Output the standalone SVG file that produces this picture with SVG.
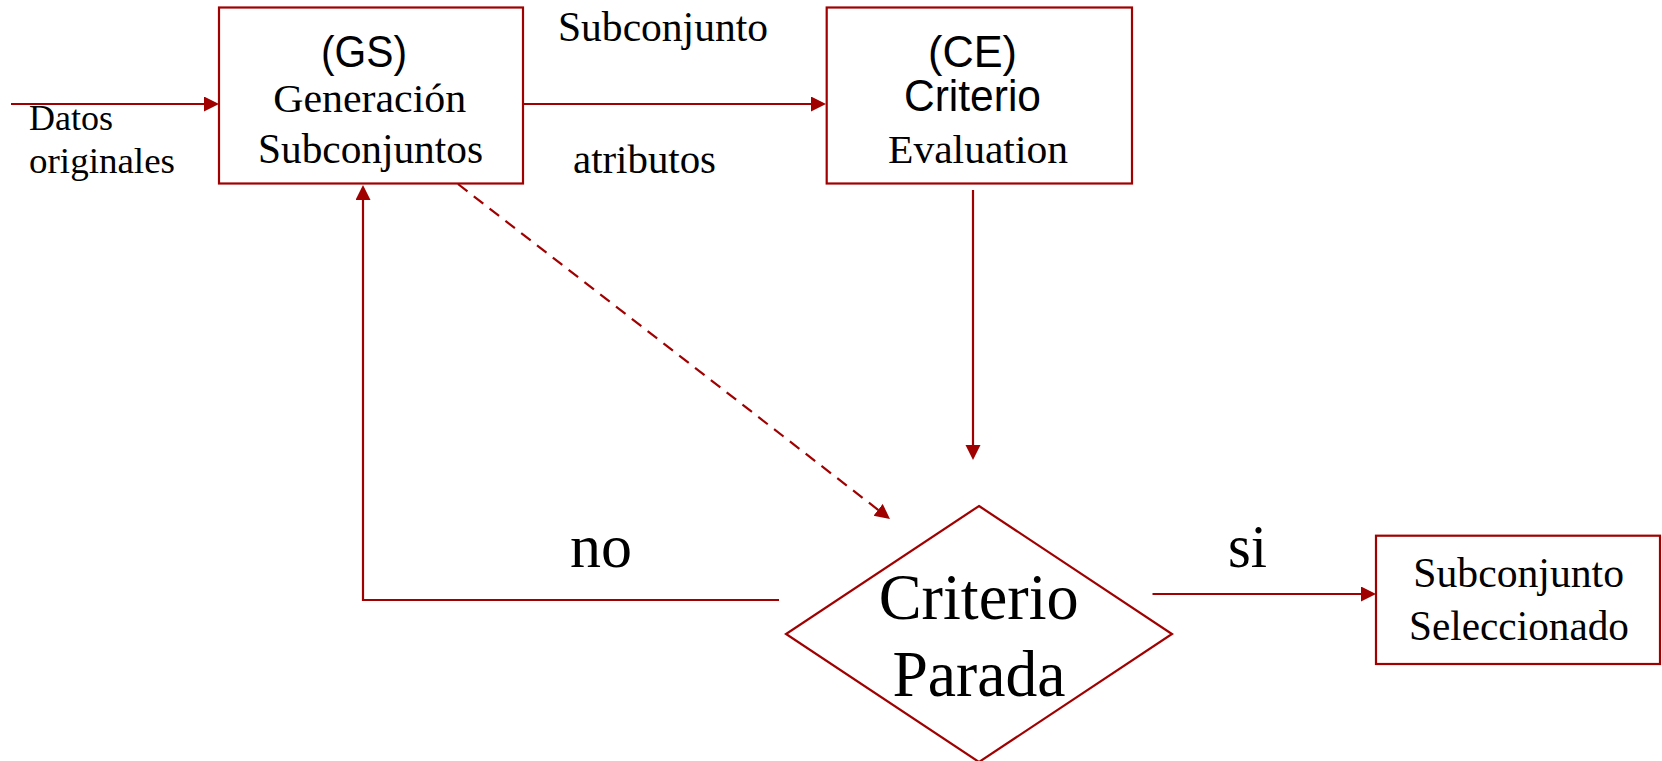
<svg xmlns="http://www.w3.org/2000/svg" width="1662" height="761" viewBox="0 0 1662 761">
<style>
.box{fill:#fff;stroke:#A00000;stroke-width:2.2}
.ln{fill:none;stroke:#A00000;stroke-width:2.2}
.dash{stroke-dasharray:12 8}
.tm{font-family:"Liberation Serif","Times New Roman",serif;fill:#000}
.ar{font-family:"Liberation Sans",Arial,sans-serif;fill:#000}
</style>
<defs>
<marker id="ah" markerUnits="userSpaceOnUse" markerWidth="16" markerHeight="16" refX="12" refY="7.5" orient="auto">
<path d="M0,0 L15,7.5 L0,15 z" fill="#A00000"/>
</marker>
</defs>
<rect width="1662" height="761" fill="#fff"/>
<g id="connectors">
<line class="ln" x1="11" y1="104" x2="216" y2="104" marker-end="url(#ah)"/>
<line class="ln" x1="523" y1="104" x2="823" y2="104" marker-end="url(#ah)"/>
<line class="ln" x1="973" y1="190" x2="973" y2="457" marker-end="url(#ah)"/>
<line class="ln dash" x1="458" y1="184" x2="887.6" y2="517.2" marker-end="url(#ah)"/>
<polyline class="ln" points="779,600 363,600 363,188" marker-end="url(#ah)"/>
<line class="ln" x1="1152.5" y1="594" x2="1373" y2="594" marker-end="url(#ah)"/>
<text class="tm" x="29" y="130" font-size="36" textLength="84" lengthAdjust="spacingAndGlyphs">Datos</text>
<text class="tm" x="29" y="173" font-size="36.5" textLength="146" lengthAdjust="spacingAndGlyphs">originales</text>
<text class="tm" x="663" y="41" font-size="42" text-anchor="middle" textLength="210" lengthAdjust="spacingAndGlyphs">Subconjunto</text>
<text class="tm" x="644.5" y="173" font-size="41" text-anchor="middle" textLength="143" lengthAdjust="spacingAndGlyphs">atributos</text>
<text class="tm" x="601" y="567" font-size="62" text-anchor="middle" textLength="62" lengthAdjust="spacingAndGlyphs">no</text>
<text class="tm" x="1247.5" y="567" font-size="62" text-anchor="middle" textLength="39" lengthAdjust="spacingAndGlyphs">si</text>
</g>
<g id="node-gs">
<rect class="box" x="219" y="7.5" width="304" height="176"/>
<text class="ar" x="364" y="67" font-size="44" text-anchor="middle" textLength="86" lengthAdjust="spacingAndGlyphs">(GS)</text>
<text class="tm" x="369.7" y="111.5" font-size="40" text-anchor="middle" textLength="193" lengthAdjust="spacingAndGlyphs">Generación</text>
<text class="tm" x="370.5" y="162.5" font-size="41.5" text-anchor="middle" textLength="225" lengthAdjust="spacingAndGlyphs">Subconjuntos</text>
</g>
<g id="node-ce">
<rect class="box" x="826.7" y="7.5" width="305.3" height="176"/>
<text class="ar" x="972.5" y="67" font-size="44" text-anchor="middle" textLength="89" lengthAdjust="spacingAndGlyphs">(CE)</text>
<text class="ar" x="972.5" y="111" font-size="44" text-anchor="middle" textLength="137" lengthAdjust="spacingAndGlyphs">Criterio</text>
<text class="tm" x="978" y="163" font-size="41" text-anchor="middle" textLength="180" lengthAdjust="spacingAndGlyphs">Evaluation</text>
</g>
<g id="node-parada">
<polygon class="box" points="979,506 1172,634 979,762 786,634"/>
<text class="tm" x="978.7" y="619" font-size="66" text-anchor="middle" textLength="200" lengthAdjust="spacingAndGlyphs">Criterio</text>
<text class="tm" x="979" y="696" font-size="65" text-anchor="middle" textLength="173" lengthAdjust="spacingAndGlyphs">Parada</text>
</g>
<g id="node-result">
<rect class="box" x="1376" y="535.7" width="284" height="128.3"/>
<text class="tm" x="1518.7" y="587" font-size="42.5" text-anchor="middle" textLength="210.7" lengthAdjust="spacingAndGlyphs">Subconjunto</text>
<text class="tm" x="1519" y="639.5" font-size="42.5" text-anchor="middle" textLength="220" lengthAdjust="spacingAndGlyphs">Seleccionado</text>
</g>
</svg>
